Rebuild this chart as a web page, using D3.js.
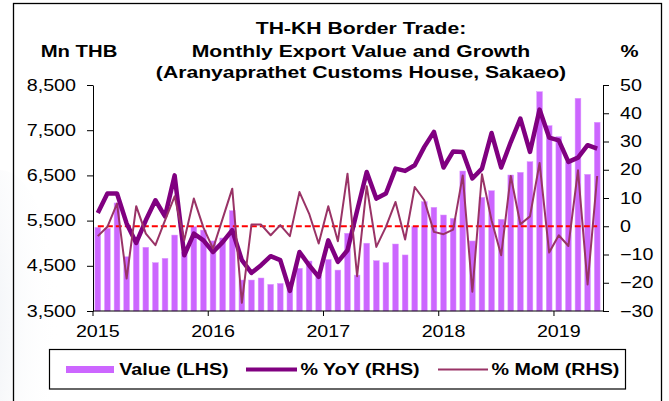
<!DOCTYPE html>
<html>
<head>
<meta charset="utf-8">
<script src="https://cdnjs.cloudflare.com/ajax/libs/d3/7.8.5/d3.min.js"></script>
<style>
  body { margin: 0; background: #fff; }
  svg { display: block; font-family: "Liberation Sans", Arial, sans-serif; }
</style>
</head>
<body>
<svg width="669" height="401"></svg>
<script>
// months Jan 2015 .. May 2019
var years = ["2015", "2016", "2017", "2018", "2019"];
var value = [5350, 5330, 5890, 4700, 5050, 4910, 4570, 4665, 5180, 4800, 5365, 5290,
             5050, 5115, 5720, 4185, 4185, 4230, 4090, 4110, 4000, 4445, 4605, 4300,
             4640, 4405, 5220, 4295, 5000, 4613, 4570, 4982, 4740, 5365, 5918, 5794,
             5624, 5550, 6597, 5049, 6015, 6161, 5529, 6509, 6568, 6803, 8352, 7600,
             7357, 6800, 8206, 6524, 7675];
var yoy = [4.7, 11.6, 11.6, 1, -5.9, 2.1, 9.2, 3.5, 18, -10.3, -2.6, -5,
           -9.1, -5.6, -1.4, -12, -16.5, -13.8, -10.6, -12, -22.9, -9.1, -13.8, -17.9,
           -5, -12.6, -8.5, 5.5, 19.2, 9.8, 11.6, 20.4, 19.6, 21.6, 28.1, 33.4,
           20.8, 26.5, 26.3, 16.9, 20.4, 33, 20.8, 29.8, 38.1, 26.3, 41.3, 31.4,
           30.4, 22.8, 24.3, 28.7, 27.5];
var mom = [-3.5, -0.2, 8, -18.5, 7.1, -2.6, -6.7, 2.1, 10.6, -5, 9.8, -0.5,
           -7.9, 2.7, 13.3, -27.1, 0.6, 0.6, -3.2, 0.4, -3.5, 12.1, 4.5, -6.1,
           7.1, -5.3, 18.6, -17.7, 14.2, -7.3, -0.2, 8.6, -4.7, 13.9, 9.2, -2,
           -2.8, -1.2, 18, -23.2, 18.4, 2.1, -10.3, 17.8, 0.7, 3.5, 22.4, -9.3,
           -3.2, -7, 19.8, -20.6, 17.8];
var leftTicks = [3500, 4500, 5500, 6500, 7500, 8500];
var rightTicks = [-30, -20, -10, 0, 10, 20, 30, 40, 50];
var legendNames = ["Value (LHS)", "% YoY (RHS)", "% MoM (RHS)"];

var SX = 1.23; // text in the picture is stretched sideways
var svg = d3.select("svg");

// faint watermark at the left edge
var defs = svg.append("defs");
var rg = defs.append("radialGradient").attr("id", "wm").attr("cx", "0").attr("cy", "0.5").attr("r", "1");
rg.append("stop").attr("offset", "0").attr("stop-color", "#d8dee8");
rg.append("stop").attr("offset", "1").attr("stop-color", "#ffffff").attr("stop-opacity", 0);
svg.append("ellipse").attr("cx", 0).attr("cy", 330).attr("rx", 60).attr("ry", 160).attr("fill", "url(#wm)");

svg.append("rect").attr("x", 13.5).attr("y", 3.5).attr("width", 648).attr("height", 420)
  .attr("fill", "none").attr("stroke", "#000").attr("stroke-width", 1.3);

var idx = d3.range(value.length);
var x = d3.scaleBand().domain(idx).range([93, 602]).paddingInner(0.4).paddingOuter(0.2);
var yl = d3.scaleLinear().domain([3500, 8500]).range([311, 85]);
var yr = d3.scaleLinear().domain([-30, 50]).range([311, 85]);
var cx = function(i) { return x(i) + x.bandwidth() / 2; };

function txt(s, px, py, size, weight, anchor, sx) {
  return svg.append("text")
    .attr("transform", "translate(" + px + "," + py + ") scale(" + (sx || SX) + ",1)")
    .attr("text-anchor", anchor || "middle")
    .style("font-size", size + "px")
    .style("font-weight", weight || "normal")
    .attr("fill", "#000")
    .text(s);
}

// title
txt("TH-KH Border Trade:", 361, 34.3, 17, "bold", "middle", 1.245);
txt("Monthly Export Value and Growth", 361, 56.7, 17, "bold", "middle", 1.245);
txt("(Aranyaprathet Customs House, Sakaeo)", 361, 78.3, 17, "bold", "middle", 1.245);
txt("Mn THB", 79, 56.7, 16.5, "bold");
txt("%", 629.5, 56.7, 16.5, "bold");

// bars
svg.append("g").selectAll("rect").data(idx).enter().append("rect")
  .attr("x", function(i) { return x(i); })
  .attr("width", x.bandwidth())
  .attr("y", function(i) { return yl(value[i]); })
  .attr("height", function(i) { return yl(3500) - yl(value[i]); })
  .attr("fill", "#cc66ff")
  .attr("stroke", "#dd99ff").attr("stroke-width", 0.5);

// axes
var axL = svg.append("g").attr("transform", "translate(93,0)")
  .call(d3.axisLeft(yl).tickValues(leftTicks).tickSizeInner(6).tickSizeOuter(0).tickFormat(d3.format(",")));
axL.selectAll("text").attr("x", -17 / SX).attr("transform", "scale(" + SX + ",1)");

var axR = svg.append("g").attr("transform", "translate(603,0)")
  .call(d3.axisRight(yr).tickValues(rightTicks).tickSizeInner(6).tickSizeOuter(0));
axR.selectAll("text").attr("x", 17 / SX).attr("transform", "scale(" + SX + ",1)");

svg.append("line").attr("x1", 93).attr("x2", 603).attr("y1", 311).attr("y2", 311).attr("stroke", "#000");
var yearIdx = [0, 12, 24, 36, 48];
svg.append("g").selectAll("line").data(yearIdx).enter().append("line")
  .attr("x1", function(i) { return x(i) - x.step() * x.paddingInner() / 2; })
  .attr("x2", function(i) { return x(i) - x.step() * x.paddingInner() / 2; })
  .attr("y1", 311).attr("y2", 316).attr("stroke", "#000");
yearIdx.forEach(function(i, k) { txt(years[k], cx(i), 336.7, 16, "normal"); });

[axL, axR].forEach(function(a) {
  a.selectAll("text").style("font-size", "16px").style("font-family", "Liberation Sans, Arial, sans-serif").attr("fill", "#000");
  a.selectAll("line, path").attr("stroke", "#000");
});

// zero line
svg.append("line").attr("x1", cx(0)).attr("x2", cx(value.length - 1))
  .attr("y1", yr(0)).attr("y2", yr(0))
  .attr("stroke", "#ff0000").attr("stroke-width", 2).attr("stroke-dasharray", "6,3");

var line = d3.line().x(function(d, i) { return cx(i); }).y(function(d) { return yr(d); });
svg.append("path").datum(yoy).attr("d", line)
  .attr("fill", "none").attr("stroke", "#800080").attr("stroke-width", 4.5).attr("stroke-linejoin", "round");
svg.append("path").datum(mom).attr("d", line)
  .attr("fill", "none").attr("stroke", "#993366").attr("stroke-width", 2).attr("stroke-linejoin", "round");

// legend
svg.append("rect").attr("x", 49.5).attr("y", 349.5).attr("width", 576).attr("height", 39.5)
  .attr("fill", "#fff").attr("stroke", "#000").attr("stroke-width", 1.2);
svg.append("rect").attr("x", 66).attr("y", 366).attr("width", 48).attr("height", 7).attr("fill", "#cc66ff");
txt(legendNames[0], 119.3, 375, 16, "bold", "start");
svg.append("line").attr("x1", 246).attr("x2", 297).attr("y1", 369.5).attr("y2", 369.5)
  .attr("stroke", "#800080").attr("stroke-width", 4);
txt(legendNames[1], 300.5, 375, 16, "bold", "start");
svg.append("line").attr("x1", 438).attr("x2", 488).attr("y1", 369.5).attr("y2", 369.5)
  .attr("stroke", "#993366").attr("stroke-width", 2);
txt(legendNames[2], 491.5, 375, 16, "bold", "start");
</script>
</body>
</html>
